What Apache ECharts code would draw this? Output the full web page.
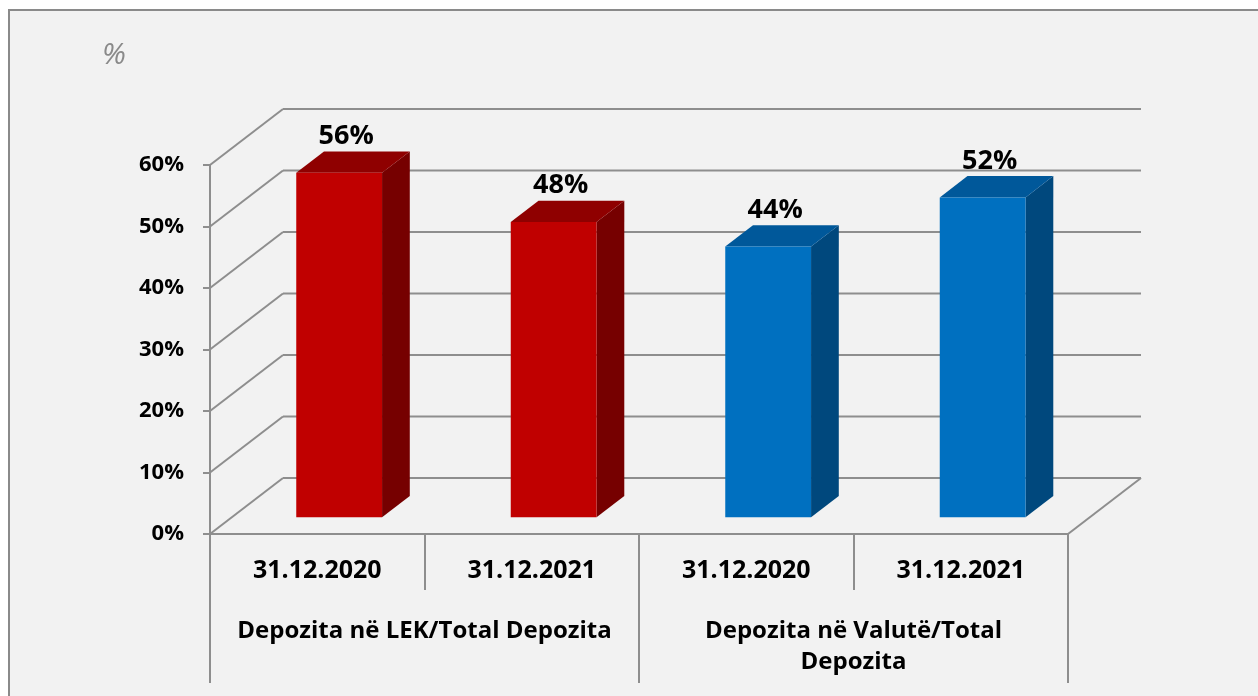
<!DOCTYPE html>
<html>
<head>
<meta charset="utf-8">
<script src="https://cdn.jsdelivr.net/npm/echarts@6/dist/echarts.min.js"></script>
<style>
  html, body { margin: 0; padding: 0; background: #ffffff; }
  #chart { width: 1258px; height: 696px; }
</style>
</head>
<body>
<div id="chart"></div>
<script>
const dates = ["31.12.2020", "31.12.2021", "31.12.2020", "31.12.2021"];
const groups = ["Depozita në LEK/Total Depozita", "Depozita në Valutë/Total\nDepozita"];
const values = [56, 48, 44, 52];
const yTicks = [0, 10, 20, 30, 40, 50, 60];

const faceColors = [
  { front: "#c00000", top: "#8f0000", side: "#760000" },
  { front: "#c00000", top: "#8f0000", side: "#760000" },
  { front: "#0070c0", top: "#00589a", side: "#00487d" },
  { front: "#0070c0", top: "#00589a", side: "#00487d" },
];

// depth of the "3d" box, in pixels
const WALL = [73, -56];
const BAR_FRONT = 0.3, BAR_BACK = 0.68;
const FONT = "'Open Sans', 'Liberation Sans', sans-serif";
const gridColor = "#8e8e8e";

const chartDom = document.getElementById("chart");
const myChart = echarts.init(chartDom);

// back wall + left wall lines for one y tick
const wallItem = (params, api) => {
  const cs = params.coordSys;
  const v = api.value(1);
  const y = api.coord([0, v])[1];
  const x0 = cs.x, x1 = cs.x + cs.width;
  const line = (ax, ay, bx, by) => ({
    type: "line",
    shape: { x1: ax, y1: ay, x2: bx, y2: by },
    style: { stroke: gridColor, lineWidth: 2 },
  });
  const children = [
    line(x0, y, x0 + WALL[0], y + WALL[1]),
    line(x0 + WALL[0], y + WALL[1], x1 + WALL[0], y + WALL[1]),
  ];
  if (v === 0) {
    // right edge of the floor
    children.push(line(x1, y, x1 + WALL[0], y + WALL[1]));
  }
  return { type: "group", children: children };
};

const barItem = (params, api) => {
  const i = api.value(0);
  const base = api.coord([i, 0]);
  const top = api.coord([i, api.value(1)]);
  const bw = api.size([1, 0])[0] * 0.4;
  const fx = WALL[0] * BAR_FRONT, fy = WALL[1] * BAR_FRONT;
  const bx = WALL[0] * BAR_BACK, by = WALL[1] * BAR_BACK;
  const dx = bx - fx, dy = by - fy;
  const l = base[0] - bw / 2 + fx;
  const r = base[0] + bw / 2 + fx;
  const b = base[1] + fy;
  const t = top[1] + fy;
  const c = faceColors[i];
  return {
    type: "group",
    children: [
      {
        type: "polygon",
        shape: { points: [[r, b], [r + dx, b + dy], [r + dx, t + dy], [r, t]] },
        style: { fill: c.side },
      },
      {
        type: "polygon",
        shape: { points: [[l, t], [r, t], [r + dx, t + dy], [l + dx, t + dy]] },
        style: { fill: c.top },
      },
      {
        type: "rect",
        shape: { x: l, y: t, width: r - l, height: b - t },
        style: { fill: c.front },
      },
      {
        type: "text",
        x: (l + r) / 2 + 7,
        y: t + dy - 15,
        style: {
          text: api.value(1) + "%",
          font: "bold 27px " + FONT,
          fill: "#000000",
          align: "center",
          verticalAlign: "middle",
        },
      },
    ],
  };
};

const option = {
  backgroundColor: "#ffffff",
  animation: false,
  graphic: [
    {
      type: "rect",
      z: -10,
      shape: { x: 9, y: 10, width: 1300, height: 800 },
      style: { fill: "#f2f2f2", stroke: "#8a8a8a", lineWidth: 2 },
    },
    {
      type: "text",
      left: 102,
      top: 40,
      style: {
        text: "%",
        fontFamily: FONT,
        fontStyle: "italic",
        fontSize: 30,
        fill: "#8a8a8a",
      },
    },
  ],
  grid: { left: 210, right: 190, top: 165, bottom: 162 },
  xAxis: [
    {
      type: "category",
      data: dates,
      position: "bottom",
      axisLine: { show: true, lineStyle: { color: gridColor, width: 2 } },
      axisTick: { show: true, length: 56, interval: 0, lineStyle: { color: gridColor, width: 2 } },
      axisLabel: {
        interval: 0,
        margin: 24,
        color: "#000000",
        fontFamily: FONT,
        fontWeight: "bold",
        fontSize: 25,
      },
    },
    {
      type: "category",
      data: groups,
      position: "bottom",
      axisLine: { show: false },
      axisTick: { show: true, length: 149, interval: 0, lineStyle: { color: gridColor, width: 2 } },
      axisLabel: {
        interval: 0,
        margin: 82,
        color: "#000000",
        fontFamily: FONT,
        fontWeight: "bold",
        fontSize: 24,
        lineHeight: 31,
        align: "center",
      },
    },
  ],
  yAxis: {
    type: "value",
    min: 0,
    max: 60,
    interval: 10,
    axisLine: { show: true, lineStyle: { color: gridColor, width: 2 } },
    axisTick: { show: true, length: 7, lineStyle: { color: gridColor, width: 2 } },
    splitLine: { show: false },
    axisLabel: {
      formatter: "{value}%",
      margin: 26,
      color: "#000000",
      fontFamily: FONT,
      fontWeight: "bold",
      fontSize: 22,
    },
  },
  series: [
    {
      name: "wall",
      type: "custom",
      renderItem: wallItem,
      data: yTicks.map((v) => [0, v]),
      encode: { x: 0, y: 1 },
      z: 1,
      silent: true,
    },
    {
      name: "bars",
      type: "custom",
      renderItem: barItem,
      data: values.map((v, i) => [i, v]),
      encode: { x: 0, y: 1 },
      z: 5,
      clip: false,
    },
  ],
};

myChart.setOption(option);
</script>
</body>
</html>
